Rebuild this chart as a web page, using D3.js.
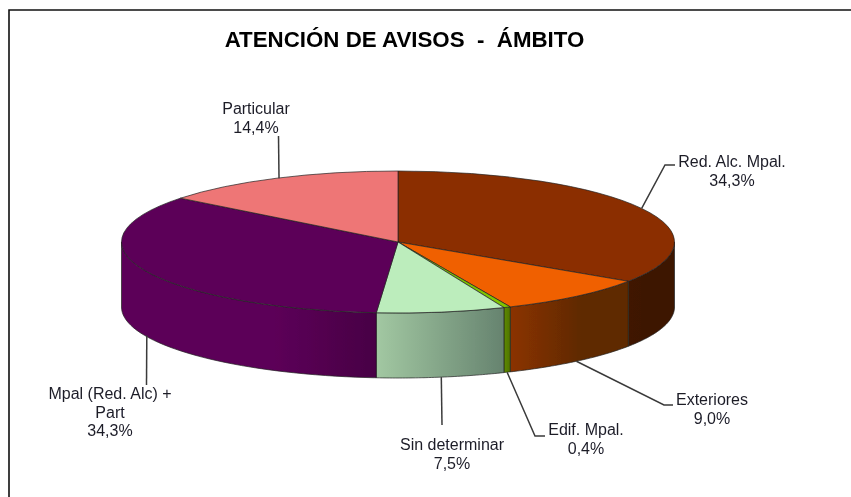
<!DOCTYPE html>
<html>
<head>
<meta charset="utf-8">
<script src="https://cdn.jsdelivr.net/npm/d3@7"></script>
<style>
  html, body { margin: 0; padding: 0; background: #fff; }
  svg { display: block; }
  text { font-family: "Liberation Sans", Arial, sans-serif; }
</style>
</head>
<body>
<svg id="chart" width="851" height="497"></svg>
<script>
// Data
let categories = ["Red. Alc. Mpal.", "Exteriores", "Edif. Mpal.", "Sin determinar", "Mpal (Red. Alc) + Part", "Particular"];
let percents = [34.3, 9.0, 0.4, 7.5, 34.3, 14.4];
let percentLabels = ["34,3%", "9,0%", "0,4%", "7,5%", "34,3%", "14,4%"];

// Colours
let faceColors = ["#8b2f00", "#f06000", "#7fc400", "#bcedbc", "#5c0058", "#ee7676"];
let wallLight = ["#3f1600", "#8b3200", "#5e8a00", "#a2c8a2", "#5c0058", "#ee7676"];
let wallDark = ["#3c1400", "#5f2a00", "#4f7300", "#66836f", "#480045", "#ee7676"];
// where the wall shading starts and stops, as a fraction of the wall width
let shadeFrom = [0, 0, 0, 0, 0.6, 0];
let shadeTo = [1, 0.6, 1, 1, 1, 1];

// Label text lines and placement
let labelLines = [["Red. Alc. Mpal."], ["Exteriores"], ["Edif. Mpal."], ["Sin determinar"], ["Mpal (Red. Alc) +", "Part"], ["Particular"]];
let labelX = [732, 712, 586, 452, 110, 256];
let labelY = [167, 405, 435, 450, 399, 114];
// leader elbow points, first elbow then end
let elbowX = [[665, 675], [664, 673], [535, 545], [442, 442], [146.5, 146.5], [278.5, 278.5]];
let elbowY = [[165, 165], [405, 405], [436, 436], [425, 425], [385, 385], [136, 136]];
let leaderNudge = [0, 0, 0, 0, 2, 2];

let width = 851, height = 497;
let cx = 398, cy = 242, rx = 276.5, ry = 71, depth = 65;

let svg = d3.select("#chart");
let defs = svg.append("defs");
defs.append("filter").attr("id", "soft")
    .append("feGaussianBlur").attr("stdDeviation", 0.4);

let root = svg.append("g").attr("filter", "url(#soft)");

// Frame, only top and left show
root.append("path")
    .attr("d", d3.line()([[width, 10], [9, 10], [9, height]]))
    .attr("fill", "none")
    .attr("stroke", "#111")
    .attr("stroke-width", 1.6);

// Title
root.append("text")
    .attr("x", 404.5).attr("y", 47)
    .attr("text-anchor", "middle")
    .attr("font-size", 22.3)
    .attr("font-weight", "bold")
    .attr("fill", "#000")
    .style("white-space", "pre")
    .text("ATENCIÓN DE AVISOS  -  ÁMBITO");

// Slices, clockwise from 12 o'clock
let pie = d3.pie().sort(null).value(d => d);
let slices = pie(percents);

let px = a => cx + rx * Math.sin(a);
let py = a => cy - ry * Math.cos(a);

// Walls only exist on the front half of the disc
let frontStart = Math.PI / 2, frontEnd = 3 * Math.PI / 2;
let line = d3.line();

slices.forEach((s, i) => {
    let a0 = Math.max(s.startAngle, frontStart);
    let a1 = Math.min(s.endAngle, frontEnd);
    if (a1 <= a0) return;

    let gradId = "wall" + i;
    let grad = defs.append("linearGradient").attr("id", gradId)
        .attr("gradientUnits", "userSpaceOnUse")
        .attr("x1", px(a1)).attr("x2", px(a0)).attr("y1", 0).attr("y2", 0);
    grad.append("stop").attr("offset", shadeFrom[i]).attr("stop-color", wallLight[i]);
    grad.append("stop").attr("offset", shadeTo[i]).attr("stop-color", wallDark[i]);

    let angles = d3.range(0, 41).map(k => a0 + (a1 - a0) * k / 40);
    let top = angles.map(a => [px(a), py(a)]);
    let bottom = angles.slice().reverse().map(a => [px(a), py(a) + depth]);

    root.append("path")
        .attr("d", line(top.concat(bottom)) + "Z")
        .attr("fill", "url(#" + gradId + ")")
        .attr("stroke", "#222")
        .attr("stroke-width", 0.7);
});

// Top face: circular arc squashed into an ellipse
let arc = d3.arc().innerRadius(0).outerRadius(rx);
let face = root.append("g")
    .attr("transform", `translate(${cx},${cy}) scale(1,${ry / rx})`);

face.selectAll("path")
    .data(slices)
    .join("path")
    .attr("d", arc)
    .attr("fill", (d, i) => faceColors[i])
    .attr("stroke", "#222")
    .attr("stroke-width", 0.7)
    .attr("vector-effect", "non-scaling-stroke");

// Leader lines start at the middle of each slice edge
slices.forEach((s, i) => {
    let mid = (s.startAngle + s.endAngle) / 2;
    let front = mid > frontStart && mid < frontEnd;
    let start = [px(mid) + leaderNudge[i], py(mid) + (front ? depth : 0)];
    let pts = [start, [elbowX[i][0], elbowY[i][0]], [elbowX[i][1], elbowY[i][1]]];
    root.append("path")
        .attr("d", line(pts))
        .attr("fill", "none")
        .attr("stroke", "#3a3a3a")
        .attr("stroke-width", 1.5);
});

// Labels
categories.forEach((c, i) => {
    let t = root.append("text")
        .attr("x", labelX[i]).attr("y", labelY[i])
        .attr("text-anchor", "middle")
        .attr("font-size", 16)
        .attr("fill", "#1c1c28");
    labelLines[i].concat([percentLabels[i]]).forEach((txt, k) => {
        t.append("tspan")
            .attr("x", labelX[i])
            .attr("dy", k === 0 ? 0 : 18.7)
            .text(txt);
    });
});
</script>
</body>
</html>
